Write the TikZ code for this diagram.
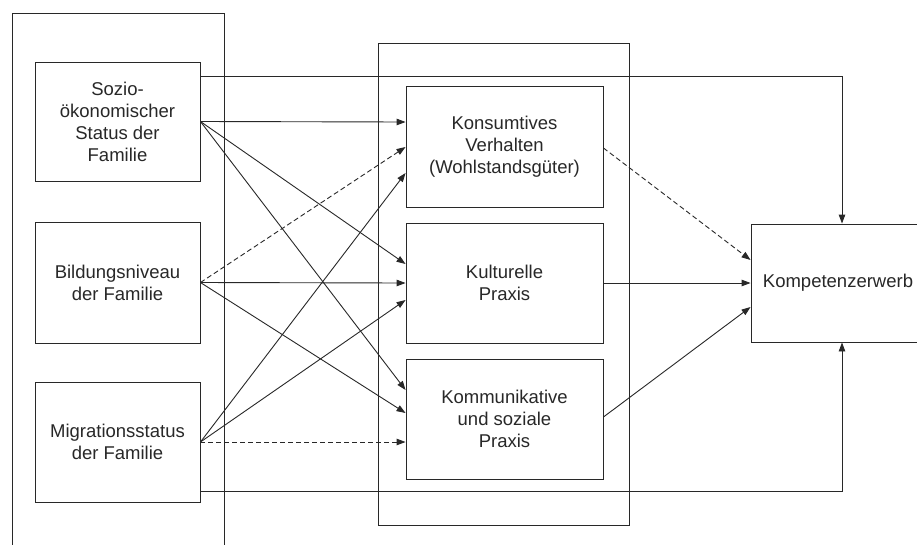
\documentclass[tikz,border=0pt]{standalone}
\usepackage{fontspec}
\setmainfont{Liberation Sans}
\usetikzlibrary{arrows.meta,calc}
\definecolor{ink}{RGB}{40,40,40}
\tikzset{
  box/.style={draw=ink, line width=0.9pt, fill=white, align=center, inner sep=2pt,
              font=\fontsize{18.5}{22}\selectfont, text=ink},
  group/.style={draw=ink, line width=0.9pt},
  arr/.style={draw=ink, line width=0.9pt, -{Triangle[length=9pt,width=6.5pt]}},
  dsh/.style={dash pattern=on 5pt off 3pt}
}
\begin{document}
\begin{tikzpicture}[x=1pt,y=-1pt]
\clip (0,0) rectangle (917,544);
\fill[white] (0,0) rectangle (917,544);

% grouping frames
\node[group, minimum width=212pt, minimum height=547pt] (grpL) at (118,286.5) {};
\node[group, minimum width=251pt, minimum height=482pt] (grpM) at (503.5,284) {};

% family background
\node[box, minimum width=165pt, minimum height=119pt] (s) at (117.5,121.5)
  {Sozio-\\ökonomischer\\Status der\\Familie};
\node[box, minimum width=165pt, minimum height=121pt] (b) at (117.5,282.5)
  {Bildungsniveau\\der Familie};
\node[box, minimum width=165pt, minimum height=120pt] (m) at (117.5,442)
  {Migrationsstatus\\der Familie};

% practices
\node[box, minimum width=197pt, minimum height=121pt] (k1) at (504.5,146.5)
  {Konsumtives\\Verhalten\\(Wohlstandsgüter)};
\node[box, minimum width=197pt, minimum height=120pt] (k2) at (504.5,283)
  {Kulturelle\\Praxis};
\node[box, minimum width=197pt, minimum height=120pt] (k3) at (504.5,419)
  {Kommunikative\\und soziale\\Praxis};

% outcome
\node[box, minimum width=174pt, minimum height=118pt] (kz) at (838,283)
  {Kompetenzerwerb};

% direct paths to the outcome
\draw[arr] (s.east |- 0,76) -| ([xshift=4pt]kz.north);
\draw[arr] (m.east |- 0,491) -| ([xshift=4pt]kz.south);

% background -> practices
\draw[arr] (s.east) -- (k1.west |- 0,122);
\draw[arr] (s.east) -- (k2.west |- 0,264);
\draw[arr] (s.east) -- (k3.west |- 0,390);
\draw[arr,dsh] (b.east) -- (k1.west |- 0,147);
\draw[arr] (b.east) -- (k2.west |- 0,283);
\draw[arr] (b.east) -- (k3.west |- 0,413);
\draw[arr] (m.east) -- (k1.west |- 0,173);
\draw[arr] (m.east) -- (k2.west |- 0,300);
\draw[arr,dsh] (m.east) -- (k3.west |- 0,442);

% practices -> outcome
\draw[arr,dsh] (k1.east |- 0,148) -- (kz.west |- 0,260);
\draw[arr] (k2.east) -- (kz.west |- 0,283);
\draw[arr] (k3.east |- 0,417) -- (kz.west |- 0,307);
\end{tikzpicture}
\end{document}
